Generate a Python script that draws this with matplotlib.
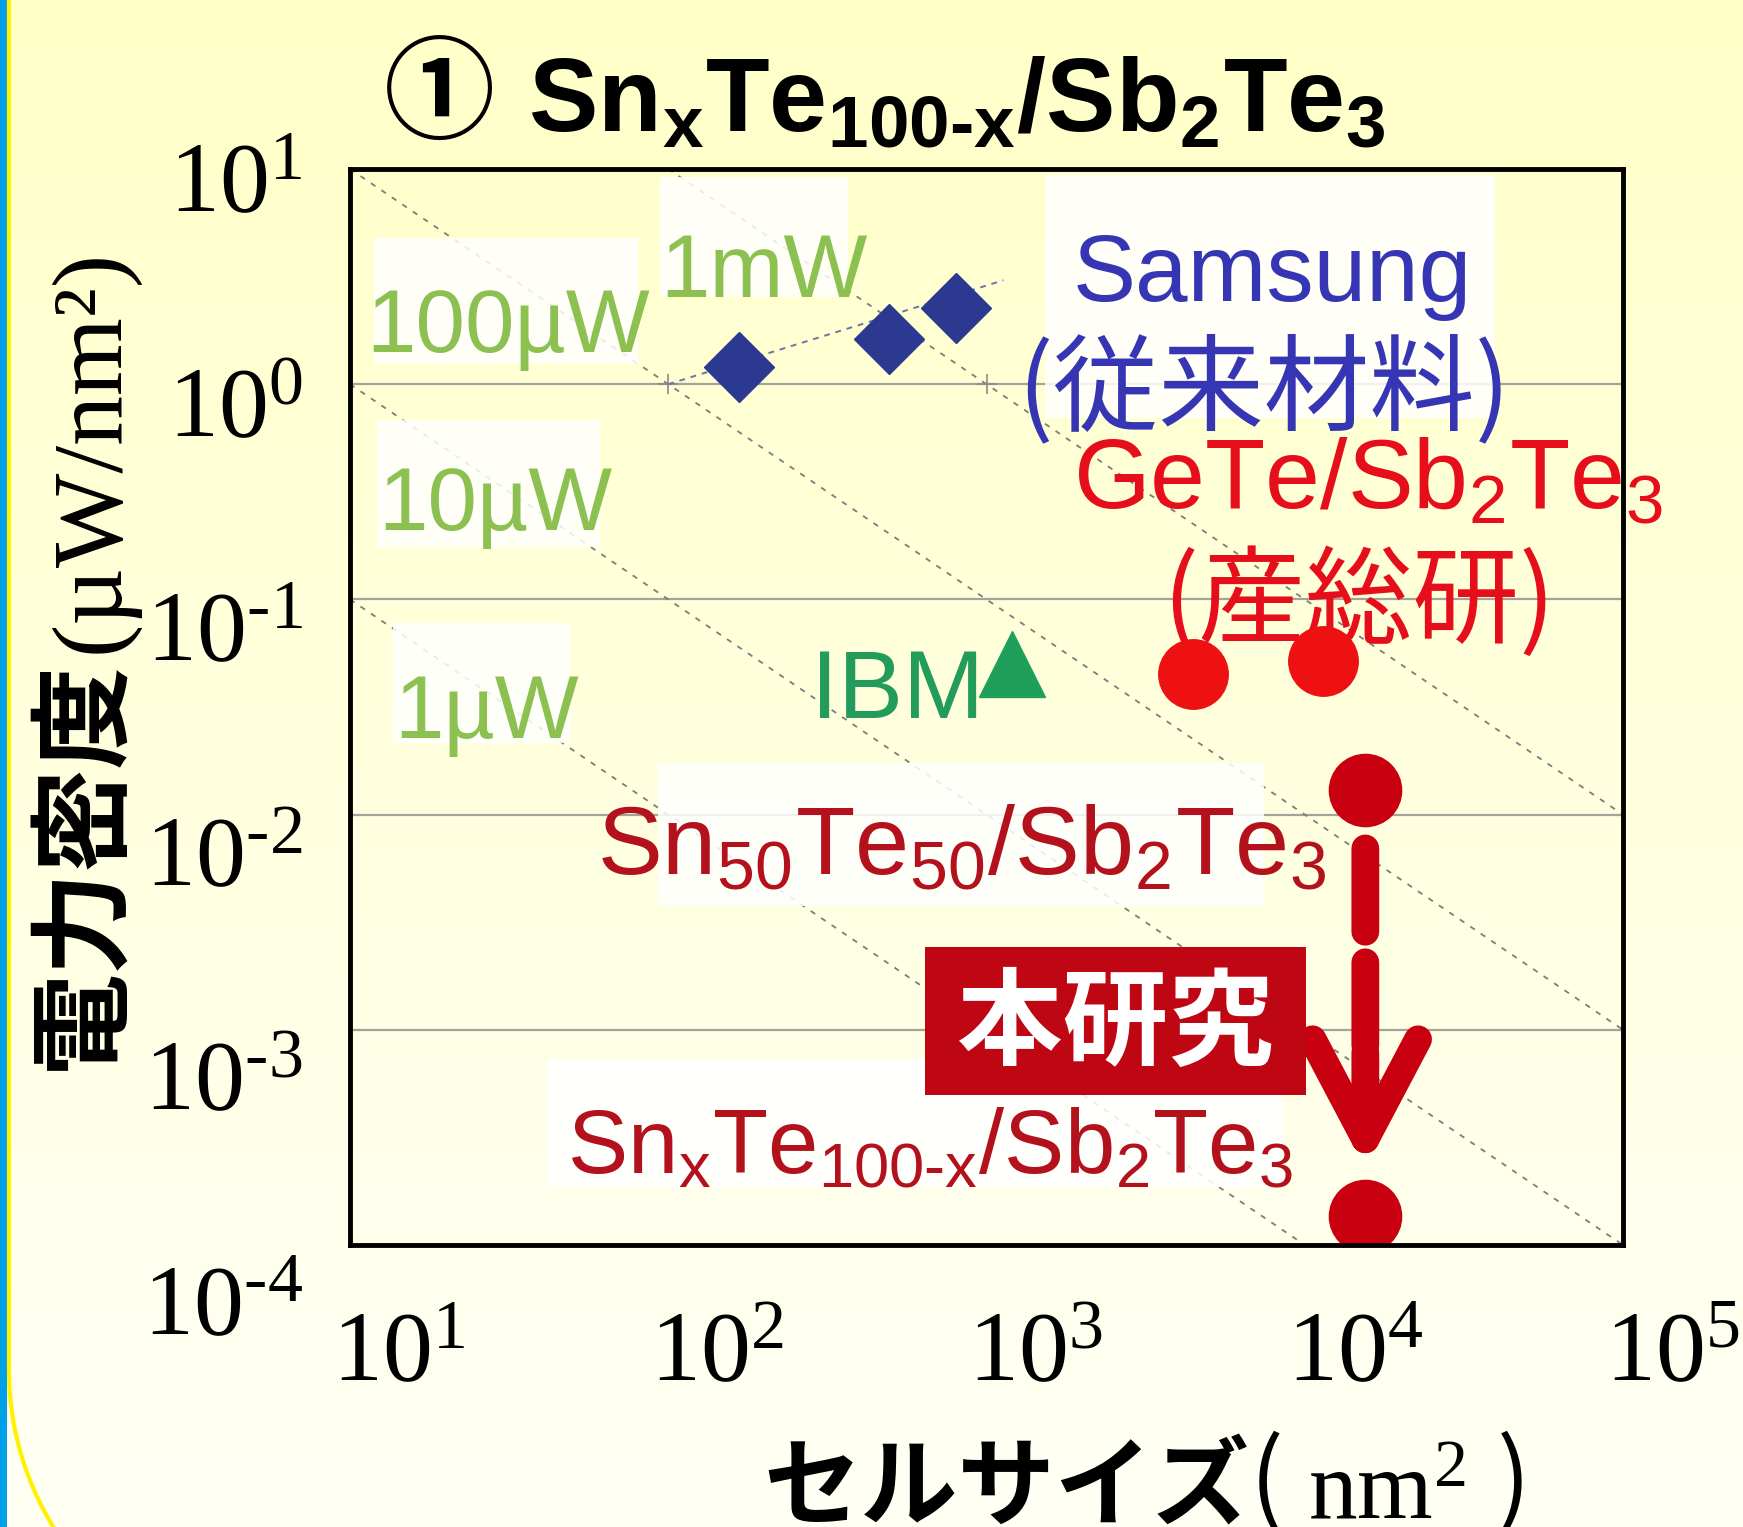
import numpy as np
import matplotlib
matplotlib.use("Agg")
import matplotlib.pyplot as plt
import matplotlib.transforms as mtransforms
from matplotlib.colors import LinearSegmentedColormap
from matplotlib.patches import Rectangle

W, H, DPI = 1743, 1527, 100

# cell size (nm^2) against power density (uW/nm^2)
samsung_size = [167, 495, 802]
samsung_density = [1.20, 1.62, 2.26]
samsung_fit_size = [100, 1130]
samsung_fit_density = [1.0, 3.04]
ibm_size = [1200]
ibm_density = [0.050]
aist_size = [4440, 11400]
aist_density = [0.045, 0.052]
sn50_size = [15500]
sn50_density = [0.013]
snx_size = [15500]
snx_density = [1.36e-4]

# constant total power guides (uW) and their labels
guide_power = [1, 10, 100, 1000]
guide_labels = ["1µW", "10µW", "100µW", "1mW"]
guide_cross_size = [100, 1000]
guide_cross_density = [1.0, 1.0]

x_decades = [1e1, 1e2, 1e3, 1e4, 1e5]
y_decades = [1e-4, 1e-3, 1e-2, 1e-1, 1e0, 1e1]

JP = "Noto Sans CJK JP"
SANS = "Liberation Sans"
SERIF = "Liberation Serif"

BLUE = "#3636B4"
RED = "#E60E1A"
DARK_RED = "#B3111C"
GREEN = "#239B5A"
LIGHT_GREEN = "#8CC152"

SNX_TEXT = r"Sn$\mathregular{_x}$Te$\mathregular{_{100‐x}}$/Sb$\mathregular{_2}$Te$\mathregular{_3}$"


def decade_label(v):
    exp = int(round(np.log10(v)))
    return r"$\mathregular{10^{%s}}$" % str(exp).replace("-", "\u2010")


fig = plt.figure(figsize=(W / DPI, H / DPI), dpi=DPI)

# backdrop: pale yellow fading downwards, blue/yellow frame edge on the left
bg = fig.add_axes([0, 0, 1, 1], zorder=-10)
bg_cmap = LinearSegmentedColormap.from_list("bg", ["#FFFFC8", "#FFFFF5"])
bg.imshow(np.linspace(0, 1, 256)[:, None], cmap=bg_cmap, aspect="auto",
          extent=[0, W, H, 0])
bg.set_xlim(0, W)
bg.set_ylim(H, 0)
bg.add_patch(Rectangle((0, 0), 7, H, color="#00A0E9", lw=0))
t = np.linspace(0, 0.56, 40)
edge_x = np.concatenate([[9, 9], 309 - 300 * np.cos(t)])
edge_y = np.concatenate([[0, 1370], 1370 + 300 * np.sin(t)])
bg.plot(edge_x, edge_y, color="#FFF200", lw=3)
bg.axis("off")

ax = fig.add_axes([350 / W, 1 - 1245 / H, 1273 / W, 1076 / H])
ax.set_xscale("log")
ax.set_yscale("log")
ax.set_xlim(x_decades[0], x_decades[-1])
ax.set_ylim(y_decades[0], y_decades[-1])
ax.patch.set_alpha(0)
for s in ax.spines.values():
    s.set_linewidth(3.5)
    s.set_zorder(10)
ax.minorticks_off()
ax.set_axisbelow(True)
ax.set_yticks(y_decades)
ax.yaxis.grid(True, color="#A3A39B", lw=1.6)
ax.tick_params(axis="y", length=0, labelleft=False)

ax.set_xticks(x_decades, [decade_label(v) for v in x_decades], ha="left",
              fontfamily=SERIF, fontsize=72)
ax.tick_params(axis="x", length=0, pad=48)
shift = mtransforms.ScaledTranslation(-0.18, 0, fig.dpi_scale_trans)
for lab in ax.get_xticklabels():
    lab.set_transform(lab.get_transform() + shift)

# y tick labels sit on their own, slightly taller, frameless axes
ax_lab = fig.add_axes([350 / W, 1 - 1300 / H, 1273 / W, (1300 - 178) / H], zorder=-5)
ax_lab.set_yscale("log")
ax_lab.set_ylim(y_decades[0], y_decades[-1])
ax_lab.minorticks_off()
ax_lab.set_yticks(y_decades, [decade_label(v) for v in y_decades],
                  fontfamily=SERIF, fontsize=72)
ax_lab.tick_params(axis="y", length=0, pad=34)
ax_lab.set_xticks([])
ax_lab.patch.set_visible(False)
for s in ax_lab.spines.values():
    s.set_visible(False)

# constant-power guide lines
for p in guide_power:
    gx = np.array([x_decades[0], x_decades[-1]])
    ax.plot(gx, p / gx, color="#7C7C7C", lw=1.3, dashes=(3, 4), zorder=1)
ax.plot(guide_cross_size, guide_cross_density, ls="none", marker="+", ms=14,
        mew=1.2, color="#8A8A8A", zorder=1)

# pale panels behind the labels
panels = [
    (0.2437, 0.8812, 0.1476, 0.1116),   # 1mW
    (0.0192, 0.8192, 0.2070, 0.1168),   # 100uW
    (0.0210, 0.6488, 0.1755, 0.1177),   # 10uW
    (0.0341, 0.4669, 0.1388, 0.1116),   # 1uW
    (0.5459, 0.7686, 0.3537, 0.2262),   # Samsung
    (0.2419, 0.3151, 0.4760, 0.1332),   # Sn50Te50
    (0.1546, 0.0537, 0.5782, 0.1178),   # SnxTe100-x
]
for x0, y0, w, h in panels:
    ax.add_patch(Rectangle((x0, y0), w, h, transform=ax.transAxes,
                           facecolor="white", edgecolor="none", alpha=0.85, zorder=2))

label_pos = {"1mW": (0.2437, 0.881), "100µW": (0.0131, 0.8295),
             "10µW": (0.0218, 0.6643), "1µW": (0.0349, 0.4711)}
for lbl in guide_labels:
    ax.text(*label_pos[lbl], lbl, transform=ax.transAxes, ha="left", va="baseline",
            fontsize=64, family=SANS, color=LIGHT_GREEN, zorder=4)

# data points
ax.plot(samsung_fit_size, samsung_fit_density, color="#6A74A8", lw=1.4,
        dashes=(3, 3), zorder=3)
ax.plot(samsung_size, samsung_density, ls="none", marker="D", ms=36,
        color="#2B3990", mec="#2B3990", zorder=5)
ax.plot(ibm_size, ibm_density, ls="none", marker="^", ms=48, color="#1FA05A", zorder=5)
ax.plot(aist_size, aist_density, ls="none", marker="o", ms=50, color="#EE1111", zorder=5)
ax.plot(sn50_size, sn50_density, ls="none", marker="o", ms=52, color="#C8000F", zorder=5)
ax.plot(snx_size, snx_density, ls="none", marker="o", ms=52, color="#C8000F", zorder=5)

# dashed arrow from Sn50Te50 down to SnxTe100-x
ax.annotate("", xy=(snx_size[0], snx_density[0]),
            xytext=(sn50_size[0], sn50_density[0]),
            arrowprops=dict(arrowstyle="-", color="#C8000F", lw=20,
                            linestyle=(0, (3, 1.1)), shrinkA=42, shrinkB=123),
            zorder=5)
ax.annotate("", xy=(snx_size[0], snx_density[0]), xytext=(0, 118),
            textcoords="offset points",
            arrowprops=dict(arrowstyle="->,head_length=72,head_width=38",
                            mutation_scale=1, color="#C8000F", lw=20,
                            shrinkA=0, shrinkB=34),
            zorder=5)

# labels
ax.text(0.5677, 0.877, "Samsung", transform=ax.transAxes, fontsize=68,
        family=SANS, color=BLUE, zorder=4)
ax.text(0.524, 0.7645, "(従来材料)", transform=ax.transAxes, fontsize=76,
        family=JP, color=BLUE, zorder=4)
ax.text(0.5677, 0.6849, r"GeTe/Sb$\mathregular{_2}$Te$\mathregular{_3}$",
        transform=ax.transAxes, fontsize=71, family=SANS, color=RED, zorder=4)
ax.text(0.6376, 0.5671, "(産総研)", transform=ax.transAxes, fontsize=77,
        family=JP, color=RED, zorder=4)
ax.text(0.3624, 0.4897, "IBM", transform=ax.transAxes, fontsize=70,
        family=SANS, color=GREEN, zorder=4)
ax.text(0.1939, 0.345,
        r"Sn$\mathregular{_{50}}$Te$\mathregular{_{50}}$/Sb$\mathregular{_2}$Te$\mathregular{_3}$",
        transform=ax.transAxes, fontsize=70, family=SANS, color=DARK_RED, zorder=4)
ax.text(0.1703, 0.0671, SNX_TEXT, transform=ax.transAxes, fontsize=65,
        family=SANS, color=DARK_RED, zorder=4)

ax.add_patch(Rectangle((0.4515, 0.1395), 0.2996, 0.1374, transform=ax.transAxes,
                       facecolor="#BE0712", edgecolor="none", zorder=6))
ax.text(0.6009, 0.2035, "本研究", transform=ax.transAxes, ha="center", va="center",
        fontsize=76, family=JP, weight="bold", color="white", zorder=7)

# axis titles
fig.text(82 / W, 1 - 864 / H, "電力密度", rotation=90, ha="center", va="center",
         fontsize=74, family=JP, weight="bold")
fig.text(93 / W, 1 - 451 / H, "(µW/nm²)", rotation=90, ha="center", va="center",
         fontsize=72, family=SERIF)
fig.text(1250 / W, 1 - 1518 / H, "セルサイズ", ha="right", va="baseline",
         fontsize=70, family=JP, weight="bold")
fig.text(1267 / W, 1 - 1512 / H, "(", ha="center", va="baseline",
         fontsize=72, family=JP)
fig.text(1308 / W, 1 - 1518 / H, r"$\mathregular{nm^2}$", ha="left", va="baseline",
         fontsize=70, family=SERIF)
fig.text(1514 / W, 1 - 1512 / H, ")", ha="center", va="baseline",
         fontsize=72, family=JP)

# heading
fig.text(439 / W, 1 - 98 / H, "①", ha="center", va="center", fontsize=80,
         family=JP, weight="bold")
fig.text(528 / W, 1 - 131 / H, SNX_TEXT, ha="left", va="baseline", fontsize=75,
         family=SANS, weight="bold")

fig.savefig("out.png", dpi=DPI)
